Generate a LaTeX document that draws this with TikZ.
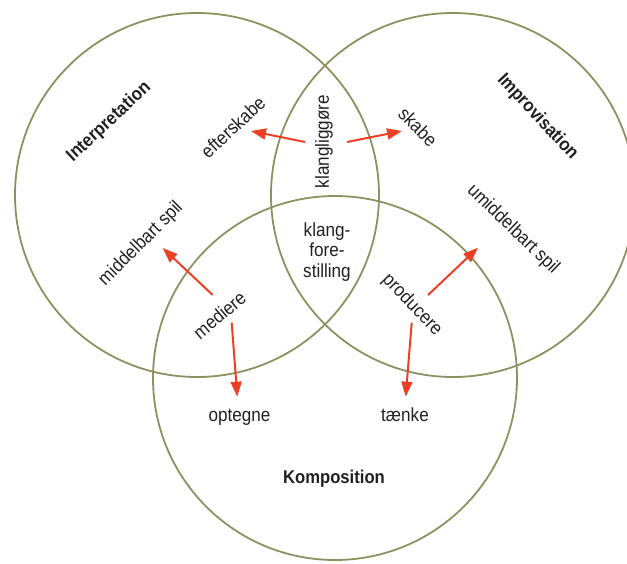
\documentclass[tikz,border=0pt]{standalone}
\usepackage{fontspec}
\setmainfont{Liberation Sans}[FakeStretch=0.9]
\usetikzlibrary{arrows.meta}
\definecolor{ringcol}{RGB}{140,145,95}
\definecolor{arrowred}{RGB}{236,64,38}
\definecolor{ink}{RGB}{35,31,32}
\begin{document}
\begin{tikzpicture}[x=1pt,y=-1pt,
  ring/.style={draw=ringcol,line width=1.8pt},
  lbl/.style={text=ink,font=\fontsize{19}{20.5}\selectfont,inner sep=0pt},
  title/.style={text=ink,font=\fontsize{18.5}{20}\selectfont\bfseries,inner sep=0pt},
  arr/.style={draw=arrowred,line width=2pt,-{Triangle[length=15pt,width=11pt]}}]
\useasboundingbox (0,0) rectangle (627,563);

% the three fields
\draw[ring] (197,195) circle[radius=182pt];
\draw[ring] (453,195) circle[radius=182pt];
\draw[ring] (335,378) circle[radius=182pt];

% field titles
\node[title,rotate=43] (interp) at (109,122) {Interpretation};
\node[title,rotate=-47] (improv) at (537.5,117) {Improvisation};
\node[title,anchor=base] (kompos) at (334,483) {Komposition};

% activities
\node[lbl,rotate=43] (efter) at (233,127) {efterskabe};
\node[lbl,rotate=45] (midspil) at (141,244) {middelbart spil};
\node[lbl,rotate=40] (medi) at (219.5,315) {mediere};
\node[lbl,rotate=-45] (skabe) at (418,127) {skabe};
\node[lbl,rotate=-44] (umid) at (513,229.5) {umiddelbart spil};
\node[lbl,rotate=-46] (prod) at (412,305) {producere};
\node[lbl,rotate=90] (klang) at (324,141.5) {klangliggøre};
\node[lbl,align=center] (fore) at (327,252) {klang-\\fore-\\stilling};
\node[lbl,anchor=base] (opt) at (239.5,421) {optegne};
\node[lbl,anchor=base] (taenk) at (405,421) {tænke};

% transitions
\draw[arr] ([shift={(-19,0.5)}]klang.center) -- ([shift={(18,4)}]efter.center);
\draw[arr] ([shift={(23,0.5)}]klang.center) -- ([shift={(-16,4)}]skabe.center);
\draw[arr] ([shift={(-6.8,-20)}]medi.center) -- ([shift={(21.7,4)}]midspil.center);
\draw[arr] ([shift={(12.2,7.7)}]medi.center) -- ([shift={(-2.2,-24.3)}]opt.base);
\draw[arr] ([shift={(16,-10)}]prod.center) -- ([shift={(-35,18.2)}]umid.center);
\draw[arr] ([shift={(-0.3,17.7)}]prod.center) -- ([shift={(0.7,-24.3)}]taenk.base);
\end{tikzpicture}
\end{document}
